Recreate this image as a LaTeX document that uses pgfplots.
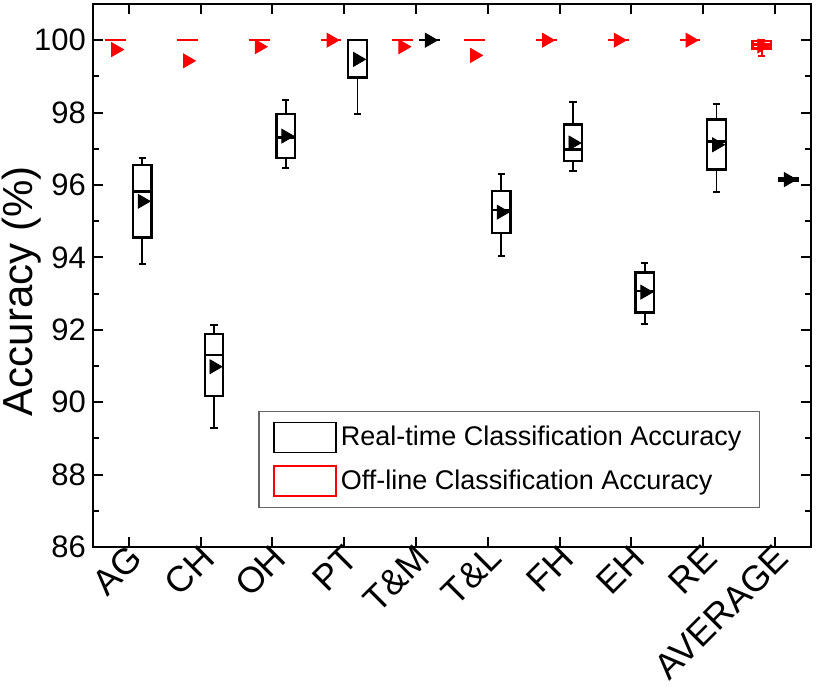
\documentclass[border=0pt]{standalone}
\usepackage{fontspec}
\setmainfont{Liberation Sans}
\usepackage{pgfplots}
\usepackage{pgfplotstable}
\pgfplotsset{compat=1.18}
\definecolor{offred}{HTML}{FF0000}

% x = draw position, lw/uw = whiskers, lq/uq = quartiles
\pgfplotstableread{
x      lw     lq     med    uq     uw     mean
0.185  93.83  94.55  95.82  96.56  96.74  95.55
1.185  89.28  90.17  91.30  91.88  92.12  90.98
2.185  96.47  96.74  97.31  97.95  98.35  97.35
3.185  97.96  98.97  100    100    100    99.47
4.185  100    100    100    100    100    100
5.185  94.05  94.67  95.32  95.83  96.29  95.25
6.185  96.38  96.66  96.98  97.67  98.28  97.16
7.185  92.16  92.48  93.07  93.58  93.84  93.04
8.185  95.80  96.43  97.20  97.81  98.25  97.11
9.185  96.09  96.11  96.15  96.19  96.21  96.15
}\realtime
\pgfplotstableread{
x      lw     lq     med    uq     uw     mean
-0.185 100    100    100    100    100    99.74
0.815  100    100    100    100    100    99.43
1.815  100    100    100    100    100    99.82
2.815  100    100    100    100    100    100
3.815  100    100    100    100    100    99.82
4.815  100    100    100    100    100    99.58
5.815  100    100    100    100    100    100
6.815  100    100    100    100    100    100
7.815  100    100    100    100    100    100
8.815  99.56  99.77  99.88  99.98  100    99.84
}\offline

\pgfplotsset{
  hbar/.style={draw=none, mark=none, error bars/.cd, x dir=both, x fixed=0.13,
    error mark=none, error bar style={draw=#1, line width=1.1pt, line cap=rect}},
  vbar/.style={draw=none, mark=none, error bars/.cd, y dir=plus, y explicit,
    error mark=none, error bar style={draw=#1, line width=1.1pt, line cap=rect}},
  whisk/.style 2 args={draw=none, mark=none, error bars/.cd, y dir=#2, y explicit,
    error mark=-, error mark options={draw=#1, rotate=90, mark size=1.8pt, line width=1pt},
    error bar style={draw=#1, line width=0.8pt}},
}

\begin{document}
\begin{tikzpicture}
\useasboundingbox (-46.5pt,-70.5pt) rectangle (363.5pt,273.5pt);
\begin{axis}[
  name=ax, at={(0,0)}, anchor=south west,
  scale only axis,
  width=359pt, height=271.5pt,
  xmin=-0.5, xmax=9.5, ymin=86, ymax=101,
  xtick={0,...,9},
  xticklabels={AG,CH,OH,PT,T\&M,T\&L,FH,EH,RE,AVERAGE},
  ytick={86,88,...,100}, minor y tick num=1,
  tick align=inside, xtick pos=both, ytick pos=both,
  major tick length=5pt, minor tick length=3pt,
  every tick/.style={black, line width=1pt},
  axis line style={black, line width=1.2pt},
  /pgf/number format/assume math mode=true,
  yticklabel style={font=\fontsize{15.5}{18}\selectfont},
  xticklabel style={font=\fontsize{18}{21}\selectfont, xshift=6pt, rotate=45, anchor=east},
  xticklabel shift=0pt,
  ylabel={Accuracy (\%)},
  every axis y label/.style={at={(axis description cs:-0.128,0.471)}, rotate=90,
    anchor=north, inner sep=0.5pt, font=\fontsize{21}{25}\selectfont},
  legend image code/.code={\draw[#1] (0pt,-7.5pt) rectangle (31pt,7.5pt);},
  legend cell align=left,
  legend style={at={(0.929,0.072)}, anchor=south east, draw=black!60,
    line width=0.6pt, font=\fontsize{13.5}{16}\selectfont,
    inner xsep=7pt, inner ysep=5pt, row sep=6pt},
]
\addlegendimage{black, line width=0.9pt}
\addlegendentry{Real-time Classification Accuracy}
\addlegendimage{offred, line width=0.9pt}
\addlegendentry{Off-line Classification Accuracy}

% off-line (red), left of each category
\addplot[whisk={offred}{plus}]  table[x=x, y=uq, y error expr=\thisrow{uw}-\thisrow{uq}] {\offline};
\addplot[whisk={offred}{minus}] table[x=x, y=lq, y error expr=\thisrow{lq}-\thisrow{lw}] {\offline};
\addplot[vbar=offred] table[x expr=\thisrow{x}-0.13, y=lq, y error expr=\thisrow{uq}-\thisrow{lq}] {\offline};
\addplot[vbar=offred] table[x expr=\thisrow{x}+0.13, y=lq, y error expr=\thisrow{uq}-\thisrow{lq}] {\offline};
\addplot[hbar=offred] table[x=x, y=lq]  {\offline};
\addplot[hbar=offred] table[x=x, y=med] {\offline};
\addplot[hbar=offred] table[x=x, y=uq]  {\offline};
\addplot[offred, only marks, mark=triangle*, mark size=4pt, mark options={rotate=-90}]
  table[x=x, y=mean] {\offline};

% real-time (black), right of each category
\addplot[whisk={black}{plus}]  table[x=x, y=uq, y error expr=\thisrow{uw}-\thisrow{uq}] {\realtime};
\addplot[whisk={black}{minus}] table[x=x, y=lq, y error expr=\thisrow{lq}-\thisrow{lw}] {\realtime};
\addplot[vbar=black] table[x expr=\thisrow{x}-0.13, y=lq, y error expr=\thisrow{uq}-\thisrow{lq}] {\realtime};
\addplot[vbar=black] table[x expr=\thisrow{x}+0.13, y=lq, y error expr=\thisrow{uq}-\thisrow{lq}] {\realtime};
\addplot[hbar=black] table[x=x, y=lq]  {\realtime};
\addplot[hbar=black] table[x=x, y=med] {\realtime};
\addplot[hbar=black] table[x=x, y=uq]  {\realtime};
\addplot[black, only marks, mark=triangle*, mark size=4pt, mark options={rotate=-90}]
  table[x=x, y=mean] {\realtime};
\end{axis}
\end{tikzpicture}
\end{document}
